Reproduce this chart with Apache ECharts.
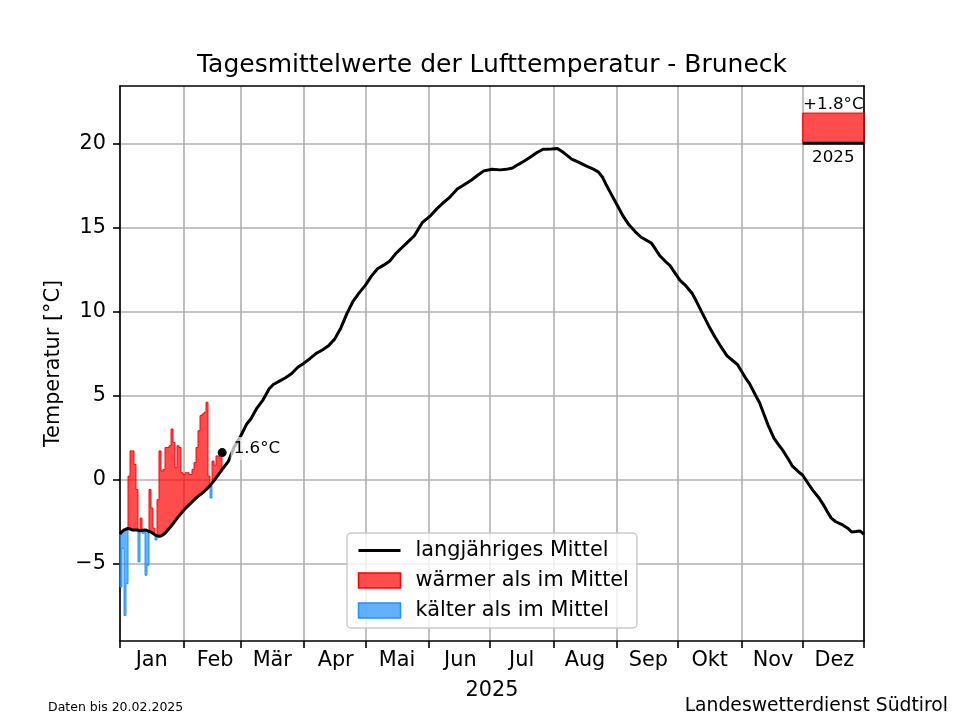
<!DOCTYPE html>
<html>
<head>
<meta charset="utf-8">
<script src="https://cdn.jsdelivr.net/npm/echarts@6/dist/echarts.min.js"></script>
<style>html,body{margin:0;padding:0;background:#fff;}#chart{width:960px;height:720px;}</style>
</head>
<body>
<div id="chart"></div>
<script>
// ---------- data ----------
const chartTitle = 'Tagesmittelwerte der Lufttemperatur - Bruneck';
const yearLabel = '2025';
const monthNames = ['Jan','Feb','Mär','Apr','Mai','Jun','Jul','Aug','Sep','Okt','Nov','Dez'];
const monthStartDays = [0,31,59,90,120,151,181,212,243,273,304,334];
const axisDays = 364;              // Jan 1 .. Dec 31
const yTicks = [-5,0,5,10,15,20];

// long-term daily mean, Jan 1 .. Feb 20 (day 0..50)
const meanJanFeb = [-3.25,-3.1,-3.0,-2.95,-2.92,-2.95,-3.0,-3.0,-3.0,-3.02,
  -3.05,-3.02,-3.0,-3.02,-3.08,-3.12,-3.2,-3.28,-3.34,-3.38,
  -3.36,-3.3,-3.2,-3.06,-2.92,-2.78,-2.62,-2.46,-2.3,-2.15,
  -2.0,-1.86,-1.73,-1.6,-1.48,-1.36,-1.25,-1.13,-1.02,-0.92,
  -0.83,-0.73,-0.62,-0.5,-0.36,-0.22,-0.07,0.1,0.26,0.43,0.6];
// observed daily means 2025, Jan 1 .. Feb 20 (day 0..50)
const daily2025 = [-6.4,-4.1,-8.1,-6.2,0.2,1.7,1.7,0.9,-0.6,-4.9,
  -2.3,-3.2,-5.7,-5.1,-0.6,-1.7,-2.9,-3.6,-1.2,1.7,
  0.5,0.6,1.9,1.9,2.0,3.0,2.2,0.7,2.0,1.9,
  0.4,0.3,0.4,0.4,0.3,0.6,1.0,1.9,2.9,3.8,
  3.9,4.0,4.6,0.2,-1.1,1.1,0.85,1.4,1.4,1.4,1.6];
// long-term mean for the rest of the year (day of year, value)
const meanRestDays = [53,56,59,62,64,67,70,73,75,78,81,84,87,90,93,96,99,102,105,108,111,114,117,120,123,126,129,132,135,138,141,144,146,148,152,155,158,161,165,168,172,175,178,182,186,189,192,195,198,201,204,207,211,214,217,221,224,228,231,234,236,238,240,242,244,246,249,252,255,258,260,262,264,267,269,272,274,277,280,282,285,288,291,294,297,300,302,304,306,308,311,313,315,317,320,322,324,327,329,332,334,337,339,342,344,346,348,350,353,356,358,360,362,364];
const meanRestValues = [1.08,1.97,2.57,3.3,3.6,4.25,4.74,5.4,5.65,5.85,6.05,6.3,6.68,6.92,7.2,7.5,7.7,7.95,8.35,9.0,9.87,10.6,11.1,11.55,12.1,12.54,12.75,13.0,13.45,13.8,14.15,14.5,14.9,15.3,15.7,16.1,16.45,16.75,17.28,17.5,17.82,18.1,18.36,18.46,18.42,18.45,18.53,18.75,18.96,19.2,19.45,19.65,19.66,19.69,19.45,19.06,18.9,18.66,18.5,18.3,18.0,17.5,17.05,16.6,16.15,15.7,15.15,14.75,14.41,14.2,14.06,13.7,13.33,12.95,12.74,12.2,11.85,11.5,11.06,10.6,9.87,9.15,8.49,7.9,7.35,7.05,6.85,6.45,6.05,5.7,5.0,4.54,3.9,3.25,2.45,2.1,1.78,1.2,0.79,0.45,0.25,-0.3,-0.65,-1.1,-1.48,-1.9,-2.3,-2.5,-2.67,-2.9,-3.12,-3.1,-3.06,-3.26];
// annual anomaly box
const yearAnomaly = 1.8;
const anomalyBase = 20;
const anomalyStartDay = 334;
const footLeft = 'Daten bis 20.02.2025';
const footRight = 'Landeswetterdienst Südtirol';

// ---------- build library structures ----------
const dayCategories = [];
for (let i = 0; i < axisDays; i++) dayCategories.push('d' + i);
const monthStartSet = new Set(monthStartDays);
const midMonthSet = new Set(monthStartDays.map(d => d + 15));
function monthOf(i) { let m = 0; for (let k = 0; k < monthStartDays.length; k++) if (i >= monthStartDays[k]) m = k; return m; }

const nBars = daily2025.length - 1;   // last value has zero width (step)
const sign = i => (i < 0 || i >= nBars) ? 0 : Math.sign(daily2025[i] - meanJanFeb[i]);
const warmItems = [], coldItems = [];
for (let i = 0; i < nBars; i++) {
  if (sign(i) > 0) warmItems.push([i, daily2025[i], meanJanFeb[i]]);
  else if (sign(i) < 0) coldItems.push([i, daily2025[i], meanJanFeb[i]]);
}
const meanPairs = meanJanFeb.map((v, i) => [i, v]).concat(meanRestDays.map((d, i) => [d, meanRestValues[i]]));
const lastIdx = daily2025.length - 1;
const lastPoint = [lastIdx, daily2025[lastIdx]];

function makeRender(fill, edge) {
  return function (params, api) {
    const i = api.value(0), top = api.value(1), base = api.value(2);
    const s = Math.sign(top - base);
    const bw = api.size([1, 0])[0];
    const cTop = api.coord([i, top]);
    const cBase = api.coord([i, base]);
    const x0 = Math.round(cTop[0] - bw / 2);
    const x1 = Math.round(cTop[0] + bw / 2);
    const yT = cTop[1], yB = cBase[1];
    const prevLevel = sign(i - 1) === s ? daily2025[i - 1] : base;
    const yPrev = api.coord([i, prevLevel])[1];
    const pts = [[x0, yPrev], [x0, yT], [x1, yT]];
    if (sign(i + 1) !== s) pts.push([x1, yB]);
    return {
      type: 'group',
      children: [
        {type: 'rect', shape: {x: x0, y: Math.min(yT, yB), width: x1 - x0, height: Math.abs(yB - yT)}, style: {fill: fill}},
        {type: 'polyline', shape: {points: pts}, style: {stroke: edge, lineWidth: 1, fill: null}}
      ]
    };
  };
}

const FONT = 'DejaVu Sans';
const chart = echarts.init(document.getElementById('chart'), null, {renderer: 'canvas'});
const fmtNum = v => (v < 0 ? '\u2212' + Math.abs(v) : String(v));

chart.setOption({
  animation: false,
  backgroundColor: '#ffffff',
  textStyle: {fontFamily: FONT},
  grid: {left: 120, right: 96, top: 86, bottom: 79, containLabel: false},
  xAxis: [{
    type: 'category', data: dayCategories, boundaryGap: true, position: 'bottom',
    name: yearLabel, nameLocation: 'middle', nameGap: 39,
    nameTextStyle: {fontSize: 20.8, color: '#000', fontFamily: FONT},
    axisLine: {show: true, onZero: false, lineStyle: {color: '#000', width: 1.6}},
    axisTick: {show: true, interval: i => monthStartSet.has(i), length: 7, lineStyle: {color: '#000', width: 1.6}},
    splitLine: {show: true, interval: i => monthStartSet.has(i), lineStyle: {color: '#b0b0b0', width: 1.6}},
    axisLabel: {interval: i => midMonthSet.has(i), formatter: (v, i) => monthNames[monthOf(i)],
      fontSize: 20.8, color: '#000', margin: 9, fontFamily: FONT}
  }, {
    type: 'value', min: 0, max: axisDays, position: 'top',
    axisLine: {show: true, onZero: false, lineStyle: {color: '#000', width: 1.6}},
    axisTick: {show: false}, axisLabel: {show: false}, splitLine: {show: false}
  }],
  yAxis: [{
    type: 'value', min: -9.61, max: 23.41, position: 'left',
    name: 'Temperatur [°C]', nameLocation: 'middle', nameGap: 51, nameRotate: 90,
    nameTextStyle: {fontSize: 20.8, color: '#000', fontFamily: FONT},
    axisLine: {show: true, onZero: false, lineStyle: {color: '#000', width: 1.6}},
    axisTick: {show: true, customValues: yTicks, length: 7, lineStyle: {color: '#000', width: 1.6}},
    axisLabel: {customValues: yTicks, formatter: v => fmtNum(v), fontSize: 20.8, color: '#000', margin: 14, fontFamily: FONT},
    splitLine: {show: true, lineStyle: {color: '#b0b0b0', width: 1.6}}
  }, {
    type: 'value', min: -9.61, max: 23.41, position: 'right',
    axisLine: {show: true, onZero: false, lineStyle: {color: '#000', width: 1.6}},
    axisTick: {show: false}, axisLabel: {show: false}, splitLine: {show: false}
  }],
  legend: {
    data: [
      {name: 'langjähriges Mittel', itemStyle: {opacity: 0}, lineStyle: {color: '#000', width: 3}},
      {name: 'wärmer als im Mittel', icon: 'rect', itemStyle: {color: 'rgba(255,0,0,0.7)', borderColor: '#ff0000', borderWidth: 1.5}},
      {name: 'kälter als im Mittel', icon: 'rect', itemStyle: {color: 'rgba(30,144,255,0.7)', borderColor: '#1e90ff', borderWidth: 1.5}}
    ],
    orient: 'vertical', left: 347, top: 533, itemWidth: 42, itemHeight: 15, itemGap: 9,
    padding: [7, 8, 7, 10], backgroundColor: 'rgba(255,255,255,0.8)',
    borderColor: '#cccccc', borderWidth: 1.5, borderRadius: 4, selectedMode: false,
    textStyle: {fontSize: 20.8, color: '#000', fontFamily: FONT, padding: [0, 0, 0, 10]}
  },
  series: [{
    type: 'custom', name: 'wärmer als im Mittel', xAxisIndex: 0, yAxisIndex: 0,
    data: warmItems, encode: {x: 0, y: [1, 2]}, renderItem: makeRender('rgba(255,0,0,0.7)', 'rgba(255,0,0,0.95)'),
    itemStyle: {color: 'rgba(255,0,0,0.7)'}, silent: true, z: 2
  }, {
    type: 'custom', name: 'kälter als im Mittel', xAxisIndex: 0, yAxisIndex: 0,
    data: coldItems, encode: {x: 0, y: [1, 2]}, renderItem: makeRender('rgba(30,144,255,0.7)', 'rgba(30,144,255,0.95)'),
    itemStyle: {color: 'rgba(30,144,255,0.7)'}, silent: true, z: 2
  }, {
    type: 'line', name: 'langjähriges Mittel', xAxisIndex: 1, yAxisIndex: 0,
    data: meanPairs, symbol: 'none', showSymbol: false,
    lineStyle: {color: '#000', width: 3}, itemStyle: {color: '#000'}, silent: true, z: 4
  }, {
    type: 'scatter', name: 'letzter Wert', xAxisIndex: 1, yAxisIndex: 0,
    data: [lastPoint], symbolSize: 9, itemStyle: {color: '#000', opacity: 1}, silent: true, z: 6,
    label: {show: true, position: 'right', distance: 4, offset: [0, -4], formatter: p => p.value[1].toFixed(1) + '°C',
      fontSize: 16.7, color: '#000', opacity: 1, fontFamily: FONT, backgroundColor: 'rgba(255,255,255,0.7)', padding: [3, 3]}
  }, {
    type: 'line', name: 'jahr', xAxisIndex: 1, yAxisIndex: 0,
    data: [[anomalyStartDay, anomalyBase], [axisDays, anomalyBase]], symbol: 'none',
    lineStyle: {color: '#000', width: 3}, silent: true, z: 5,
    markArea: {
      silent: true,
      itemStyle: {color: 'rgba(255,0,0,0.7)', borderColor: '#ff0000', borderWidth: 1},
      label: {show: true, position: 'top', distance: -1, formatter: '+' + yearAnomaly.toFixed(1) + '°C',
        fontSize: 16.7, color: '#000', fontFamily: FONT},
      data: [[{coord: [anomalyStartDay, anomalyBase]}, {coord: [axisDays, anomalyBase + yearAnomaly]}]]
    }
  }, {
    type: 'scatter', name: 'jahrlabel', xAxisIndex: 1, yAxisIndex: 0,
    data: [[(anomalyStartDay + axisDays) / 2, anomalyBase]], symbolSize: 0, silent: true, z: 6,
    itemStyle: {opacity: 1},
    label: {show: true, position: 'bottom', distance: 6, formatter: yearLabel, fontSize: 16.7, color: '#000', opacity: 1, fontFamily: FONT}
  }],
  graphic: [{
    type: 'text', x: 492, y: 65, silent: true,
    style: {text: chartTitle, fontSize: 25, fontFamily: FONT, fill: '#000', textAlign: 'center', textVerticalAlign: 'middle'}
  }, {
    type: 'text', x: 48, y: 708, silent: true,
    style: {text: footLeft, fontSize: 12.5, fontFamily: FONT, fill: '#000', textAlign: 'left', textVerticalAlign: 'middle'}
  }, {
    type: 'text', x: 948, y: 706, silent: true,
    style: {text: footRight, fontSize: 18.75, fontFamily: FONT, fill: '#000', textAlign: 'right', textVerticalAlign: 'middle'}
  }]
});
</script>
</body>
</html>
